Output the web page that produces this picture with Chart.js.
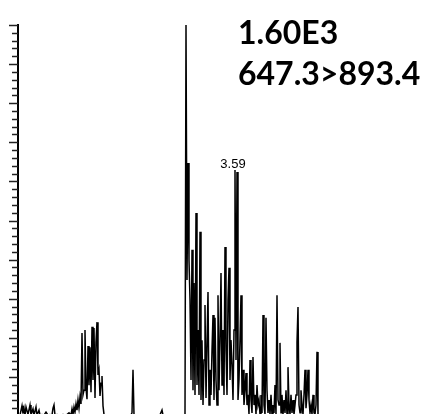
<!DOCTYPE html>
<html>
<head>
<meta charset="utf-8">
<script src="https://cdn.jsdelivr.net/npm/chart.js@4.4.1/dist/chart.umd.min.js"></script>
<style>
  html, body { margin: 0; padding: 0; background: #fff; overflow: hidden; }
  canvas { display: block; }
</style>
</head>
<body>
<canvas id="chrom" width="432" height="418"></canvas>
<script>
// retention time (min) and relative intensity (%) of the 647.3>893.4 trace
const rt = [
  2.510, 2.520, 2.525, 2.530, 2.535, 2.540, 2.550, 2.560, 2.565, 2.575, 2.580, 2.590, 2.595, 2.605, 2.610,
  2.620, 2.630, 2.640, 2.650, 2.660, 2.670, 2.675, 2.680, 2.685, 2.695, 2.710, 2.725, 2.740, 2.755, 2.765,
  2.770, 2.775, 2.780, 2.785, 2.790, 2.795, 2.800, 2.805,
  2.810, 2.815, 2.820, 2.825, 2.830, 2.835, 2.840, 2.845, 2.850, 2.855, 2.860, 2.865, 2.870, 2.875, 2.880,
  2.885, 2.890, 2.895, 2.900, 2.905, 2.910, 2.915, 2.920, 2.925, 2.930, 2.940,
  2.950, 2.970, 2.990, 3.010, 3.030, 3.050, 3.065, 3.070, 3.075, 3.080, 3.090, 3.110, 3.135, 3.160, 3.185,
  3.210, 3.220, 3.225, 3.250, 3.270, 3.290, 3.310, 3.330, 3.335,
  3.340, 3.345, 3.350, 3.355, 3.360, 3.365, 3.370, 3.375, 3.380, 3.385, 3.390, 3.395, 3.400, 3.405, 3.410,
  3.415, 3.420, 3.425, 3.430, 3.435, 3.440, 3.445, 3.450, 3.455, 3.460, 3.465, 3.470, 3.475, 3.480, 3.485,
  3.490, 3.495, 3.500, 3.505, 3.510, 3.515, 3.520, 3.525, 3.530, 3.535, 3.540, 3.545, 3.550, 3.555, 3.560,
  3.565, 3.570, 3.575, 3.580, 3.585, 3.590, 3.595, 3.600, 3.605, 3.610, 3.615, 3.620, 3.625, 3.630, 3.635,
  3.640, 3.645, 3.650, 3.655, 3.660, 3.665, 3.670, 3.675, 3.680, 3.685, 3.690, 3.695, 3.700, 3.705, 3.710,
  3.715, 3.720, 3.725, 3.730, 3.735, 3.740, 3.745, 3.750, 3.755, 3.760, 3.765, 3.770, 3.775, 3.780, 3.785,
  3.790, 3.795, 3.800, 3.805, 3.810, 3.815, 3.820, 3.825, 3.830, 3.835, 3.840, 3.845, 3.850, 3.855, 3.860,
  3.865, 3.870, 3.875, 3.880, 3.885, 3.890, 3.895, 3.900, 3.905, 3.910, 3.915, 3.920, 3.925, 3.930, 3.935,
  3.940, 3.945, 3.950, 3.955, 3.960, 3.965, 3.970, 3.975, 3.980, 3.985, 3.990, 3.995, 4.000
];
const intensity = [
  0.2, 2.6, 0.6, 2.0, 0.2, 2.3, 0.4, 2.8, 0.3, 1.8, 0.2, 2.3, 0.2, 1.5, 0.2,
  0.4, 0.2, 1.0, 0.2, 0.4, 0.2, 2.0, 2.8, 0.2, 0.4, 0.2, 0.4, 0.2, 0.8, 0.2,
  1.8, 0.4, 2.3, 1.0, 3.1, 1.5, 4.1, 2.0,
  4.9, 3.1, 21.2, 5.4, 6.6, 22.0, 7.2, 4.3, 17.9, 7.9, 17.6, 6.1, 22.8, 9.2, 22.5,
  4.6, 18.9, 24.0, 10.5, 11.8, 5.1, 8.4, 10.2, 2.6, 0.4, 0.2,
  0.3, 0.2, 0.3, 0.2, 0.3, 0.2, 0.3, 0.8, 11.8, 0.3, 0.2, 0.3, 0.2, 0.3, 0.2,
  0.3, 1.5, 0.2, 0.3, 0.2, 0.3, 0.2, 0.3, 0.8,
  100, 34.8, 64.7, 39.9, 29.7, 9.2, 42.5, 6.6, 34.0, 5.4, 51.9, 7.9, 22.0, 5.4, 47.1,
  4.1, 19.4, 2.8, 14.3, 28.4, 4.6, 18.2, 31.7, 2.8, 11.8, 5.4, 16.9, 25.8, 4.1, 25.1,
  9.2, 2.8, 30.9, 6.6, 19.4, 36.6, 7.9, 22.0, 5.4, 43.2, 16.9, 5.4, 29.7, 37.9, 9.2,
  19.4, 13.0, 4.1, 22.0, 62.9, 14.3, 62.4, 4.1, 9.2, 19.4, 30.9, 5.4, 11.8, 2.8, 6.6,
  11.0, 2.8, 5.4, 0.4, 14.3, 4.1, 0.8, 15.1, 2.8, 5.4, 0.4, 7.9, 2.8, 4.1, 0.4,
  5.4, 0.8, 25.8, 2.8, 0.4, 25.1, 6.6, 0.8, 4.1, 0.4, 5.4, 0.2, 2.8, 0.8, 7.9,
  0.4, 30.9, 4.1, 2.8, 18.7, 0.8, 5.4, 0.4, 4.1, 0.8, 6.6, 0.4, 12.5, 2.8, 0.4,
  5.4, 0.8, 4.1, 0.4, 2.8, 5.4, 18.9, 27.9, 2.8, 0.8, 6.6, 2.8, 0.4, 5.4, 11.8,
  2.0, 5.4, 11.8, 4.1, 0.8, 2.8, 0.4, 5.4, 0.8, 0.4, 2.8, 16.4, 0.2
];

// peak label and header text
const peakRt = [3.585];
const peakLabels = ['3.59'];
const headerLines = ['1.60E3', '647.3>893.4'];

const points = rt.map(function(t, i) { return { x: t, y: intensity[i] }; });

// y axis tick marks: long every 10 %, short every 2 %
const tickMarks = {
    id: 'tickMarks',
    afterDraw: function(chart) {
        const y = chart.scales.y;
        const ctx = chart.ctx;
        const x0 = chart.chartArea.left;
        ctx.save();
        ctx.strokeStyle = '#222';
        ctx.lineWidth = 1.5;
        y.ticks.forEach(function(t) {
            const py = Math.round(y.getPixelForValue(t.value)) + 0.5;
            const len = (Math.round(t.value) % 10 === 0) ? 9 : 6;
            ctx.beginPath();
            ctx.moveTo(x0 - len, py);
            ctx.lineTo(x0, py);
            ctx.stroke();
        });
        ctx.restore();
    }
};

const labels = {
    id: 'labels',
    afterDraw: function(chart) {
        const ctx = chart.ctx;
        const xs = chart.scales.x, ys = chart.scales.y;
        ctx.save();
        ctx.fillStyle = '#000';
        ctx.font = '13px "Liberation Sans", Arial, sans-serif';
        ctx.textAlign = 'center';
        ctx.textBaseline = 'alphabetic';
        peakRt.forEach(function(t, i) {
            const idx = rt.indexOf(t);
            const px = xs.getPixelForValue(t) - 2;
            const py = ys.getPixelForValue(intensity[idx]) - 2;
            ctx.fillText(peakLabels[i], px, py);
        });
        ctx.font = 'bold 32px Lato, "Open Sans", sans-serif';
        ctx.textAlign = 'left';
        ctx.fillText(headerLines[0], 238, 44);
        ctx.fillText(headerLines[1], 238, 85);
        ctx.restore();
    }
};

new Chart(document.getElementById('chrom').getContext('2d'), {
    type: 'line',
    data: {
        datasets: [{
            data: points,
            borderColor: '#000',
            borderWidth: 1.5,
            pointRadius: 0,
            tension: 0,
            fill: false
        }]
    },
    options: {
        responsive: false,
        animation: false,
        layout: { padding: { top: 25, bottom: 2, left: 0, right: 0 } },
        plugins: {
            legend: { display: false },
            tooltip: { enabled: false }
        },
        scales: {
            x: {
                type: 'linear',
                min: 2.5,
                max: 4.57,
                display: false
            },
            y: {
                min: 0,
                max: 100,
                ticks: { display: false, stepSize: 2 },
                grid: { display: true, drawOnChartArea: false, drawTicks: false },
                border: { display: true, color: '#000', width: 2 },
                afterFit: function(scale) { scale.width = 18; }
            }
        }
    },
    plugins: [tickMarks, labels]
});
</script>
</body>
</html>
